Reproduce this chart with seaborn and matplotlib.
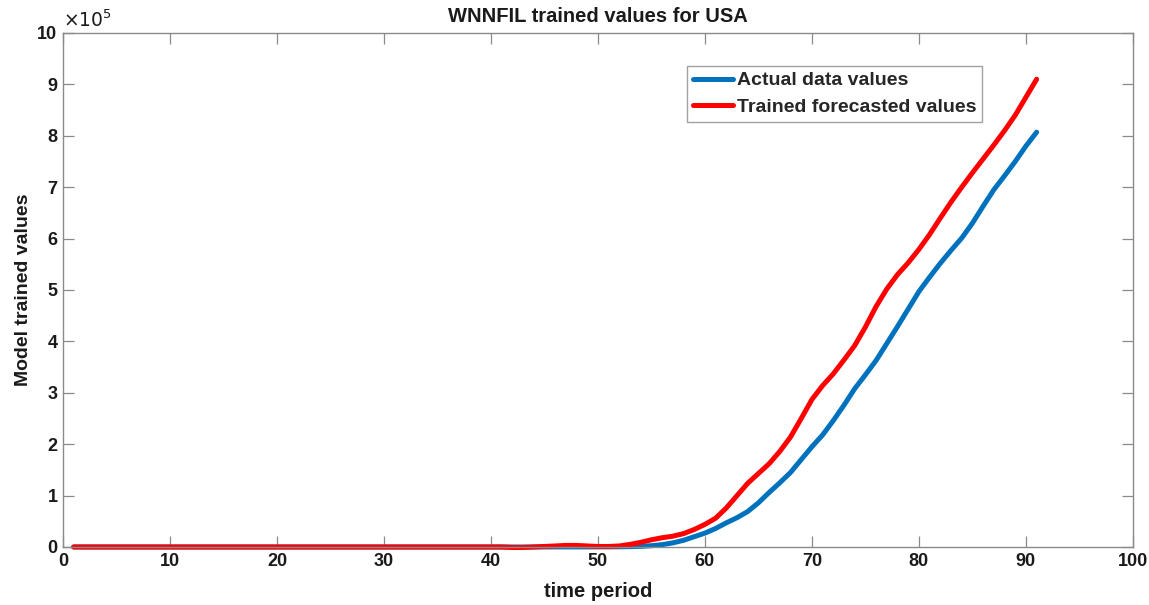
import matplotlib
matplotlib.use("Agg")
import matplotlib.pyplot as plt
import seaborn as sns
import pandas as pd

# ---- data (values in units of 1e5) ----
time_period = list(range(1, 92))

actual_values = [
    0.0, 0.0, 0.0, 0.0, 0.0, 0.0, 0.0, 0.0, 0.0, 0.0,
    0.0, 0.0, 0.0, 0.0, 0.0, 0.0, 0.0, 0.0, 0.0, 0.0,
    0.0, 0.0, 0.0, 0.0, 0.0, 0.0, 0.0, 0.0, 0.0, 0.0,
    0.0, 0.0, 0.0, 0.0, 0.0, 0.0, 0.0, 0.0, 0.0, 0.0,
    0.0, 0.0, 0.0, 0.0, 0.0, 0.001, 0.001, 0.001, 0.001, 0.002,
    0.002, 0.004, 0.007, 0.012, 0.025, 0.045, 0.08, 0.13, 0.20, 0.27,
    0.36, 0.47, 0.57, 0.69, 0.86, 1.06, 1.25, 1.45, 1.70, 1.95,
    2.18, 2.46, 2.76, 3.08, 3.35, 3.63, 3.96, 4.29, 4.63, 4.97,
    5.25, 5.52, 5.77, 6.01, 6.30, 6.63, 6.95, 7.22, 7.50, 7.80,
    8.07,
]

trained_values = [
    0.0, 0.0, 0.0, 0.0, 0.0, 0.0, 0.0, 0.0, 0.0, 0.0,
    0.0, 0.0, 0.0, 0.0, 0.0, 0.0, 0.0, 0.0, 0.0, 0.0,
    0.0, 0.0, 0.0, 0.0, 0.0, 0.0, 0.0, 0.0, 0.0, 0.0,
    0.0, 0.0, 0.0, 0.0, 0.0, 0.0, 0.0, 0.0, 0.0, 0.0,
    0.0, -0.01, -0.01, 0.0, 0.01, 0.02, 0.03, 0.03, 0.02, 0.01,
    0.01, 0.02, 0.05, 0.09, 0.14, 0.18, 0.21, 0.26, 0.34, 0.44,
    0.56, 0.76, 1.00, 1.24, 1.43, 1.62, 1.86, 2.14, 2.50, 2.87,
    3.14, 3.37, 3.64, 3.92, 4.28, 4.68, 5.02, 5.30, 5.53, 5.79,
    6.08, 6.40, 6.71, 7.00, 7.28, 7.55, 7.82, 8.10, 8.40, 8.75,
    9.10,
]

series_names = ["Actual data values", "Trained forecasted values"]
series_colors = ["#0072BD", "#FF0000"]

x_ticks = [0, 10, 20, 30, 40, 50, 60, 70, 80, 90, 100]
y_ticks = [0, 1, 2, 3, 4, 5, 6, 7, 8, 9, 10]

df = pd.DataFrame({
    "time": time_period * 2,
    "value": actual_values + trained_values,
    "series": [series_names[0]] * len(time_period) + [series_names[1]] * len(time_period),
})

sns.set_theme(style="white")
plt.rcParams["font.family"] = ["Liberation Sans", "DejaVu Sans"]

fig = plt.figure(figsize=(11.49, 6.05), dpi=100)
ax = fig.add_axes([0.0548, 0.0959, 0.9312, 0.8496])

sns.lineplot(data=df, x="time", y="value", hue="series",
             palette=dict(zip(series_names, series_colors)),
             linewidth=3.6, ax=ax, clip_on=False)

ax.set_xlim(0, 100)
ax.set_ylim(0, 10)
ax.set_xticks(x_ticks)
ax.set_yticks(y_ticks)
ax.set_xticklabels([str(t) for t in x_ticks], fontweight="bold", fontsize=13)
ax.set_yticklabels([str(t) for t in y_ticks], fontweight="bold", fontsize=13)

spine_color = "#8a8a8a"
for s in ax.spines.values():
    s.set_visible(True)
    s.set_color(spine_color)
    s.set_linewidth(1.0)
ax.tick_params(direction="in", length=8, width=0.9, color=spine_color,
               top=True, right=True, bottom=True, left=True,
               labelcolor="#1a1a1a", pad=4)

ax.set_xlabel("time period", fontsize=14.5, fontweight="bold", color="#1a1a1a", labelpad=9)
ax.set_ylabel("Model trained values", fontsize=14, fontweight="bold", color="#1a1a1a", labelpad=4)
ax.set_title("WNNFIL trained values for USA", fontsize=14.5, fontweight="bold", color="#1a1a1a", pad=8)

ax.text(0.0, 1.004, r"$\times10^{5}$", transform=ax.transAxes, fontsize=13.5,
        ha="left", va="bottom", color="#1a1a1a")

leg = ax.legend(loc="upper right", bbox_to_anchor=(0.859, 0.936), borderaxespad=0,
                fancybox=False, frameon=True, prop={"weight": "bold", "size": 14},
                handlelength=2.05, handletextpad=0.2, borderpad=0.3, labelspacing=0.45)
leg.get_frame().set_edgecolor("#8a8a8a")
leg.get_frame().set_linewidth(1.0)
for line in leg.get_lines():
    line.set_linewidth(3.6)

fig.savefig("out.png", dpi=100, facecolor="white")
